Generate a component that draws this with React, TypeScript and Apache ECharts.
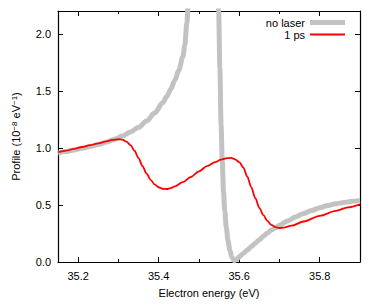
import React, { useEffect, useRef } from "react";
import * as echarts from "echarts";

const noLaserX = [35.15, 35.17, 35.19, 35.21, 35.23, 35.25, 35.27, 35.29, 35.31, 35.33, 35.35, 35.37, 35.39, 35.41, 35.42, 35.43, 35.44, 35.45, 35.46, 35.465, 35.47, 35.475, 35.48, 35.49, 35.546, 35.549, 35.552, 35.555, 35.558, 35.561, 35.564, 35.568, 35.572, 35.577, 35.582, 35.587, 35.593, 35.6, 35.61, 35.62, 35.63, 35.64, 35.65, 35.66, 35.67, 35.68, 35.69, 35.7, 35.72, 35.74, 35.76, 35.78, 35.8, 35.82, 35.84, 35.86, 35.88, 35.9];
const noLaserY = [0.955, 0.968, 0.982, 0.997, 1.013, 1.03, 1.05, 1.075, 1.105, 1.14, 1.18, 1.235, 1.305, 1.395, 1.45, 1.515, 1.59, 1.68, 1.8, 1.9, 2.1, 2.35, 2.6, 3.0, 3.0, 2.2, 1.7, 1.2, 0.88, 0.62, 0.45, 0.3, 0.19, 0.1, 0.04, 0.01, 0.02, 0.045, 0.075, 0.105, 0.135, 0.165, 0.195, 0.225, 0.255, 0.28, 0.3, 0.322, 0.36, 0.395, 0.425, 0.452, 0.475, 0.495, 0.51, 0.522, 0.532, 0.54];

const psX = [35.15, 35.17, 35.19, 35.21, 35.23, 35.25, 35.27, 35.285, 35.3, 35.31, 35.32, 35.33, 35.34, 35.35, 35.36, 35.37, 35.38, 35.39, 35.4, 35.41, 35.42, 35.43, 35.44, 35.46, 35.48, 35.5, 35.52, 35.54, 35.555, 35.57, 35.58, 35.59, 35.6, 35.61, 35.62, 35.63, 35.64, 35.65, 35.66, 35.67, 35.68, 35.69, 35.7, 35.71, 35.73, 35.76, 35.8, 35.84, 35.87, 35.9];
const psY = [0.962, 0.976, 0.992, 1.008, 1.024, 1.04, 1.057, 1.07, 1.076, 1.072, 1.055, 1.025, 0.975, 0.91, 0.84, 0.775, 0.72, 0.68, 0.655, 0.642, 0.64, 0.648, 0.662, 0.7, 0.745, 0.795, 0.84, 0.875, 0.897, 0.91, 0.912, 0.9, 0.875, 0.83, 0.75, 0.655, 0.56, 0.475, 0.41, 0.36, 0.325, 0.305, 0.298, 0.302, 0.318, 0.355, 0.405, 0.448, 0.478, 0.505];

const xMajorTicks = [35.2, 35.4, 35.6, 35.8];
const xMinorTicks = [35.3, 35.5, 35.7];
const yTicks = [0, 0.5, 1.0, 1.5, 2.0];
const seriesNames = ["no laser", "1 ps"];

const FONT = "Liberation Sans, Arial, Helvetica, sans-serif";

export default function App() {
  const ref = useRef<HTMLDivElement>(null);
  useEffect(() => {
    if (!ref.current) return;
    const chart = echarts.init(ref.current, null, { renderer: "svg" });
    const zip = (xs: number[], ys: number[]) => xs.map((x, i) => [x, ys[i]]);
    const baseX = (position: string, ticks: number[], len: number, showLine: boolean, labels: boolean) => ({
      type: "value",
      position,
      min: 35.15,
      max: 35.9,
      axisLine: { show: showLine, onZero: false, lineStyle: { color: "#000", width: 1.2 } },
      axisTick: { show: true, inside: true, length: len, customValues: ticks, lineStyle: { color: "#000", width: 1 } },
      axisLabel: labels
        ? { show: true, customValues: ticks, margin: 8, color: "#000", fontSize: 11, fontFamily: FONT, formatter: (v: number) => v.toFixed(1) }
        : { show: false },
      splitLine: { show: false },
    });
    const baseY = (position: string, labels: boolean) => ({
      type: "value",
      position,
      min: 0,
      max: 2.2,
      axisLine: { show: true, onZero: false, lineStyle: { color: "#000", width: 1.2 } },
      axisTick: { show: true, inside: true, length: 5, customValues: yTicks, lineStyle: { color: "#000" } },
      axisLabel: labels
        ? { show: true, customValues: yTicks, margin: 7, color: "#000", fontSize: 11, fontFamily: FONT, formatter: (v: number) => v.toFixed(1) }
        : { show: false },
      splitLine: { show: false },
    });
    const legendText = { fontSize: 11, fontFamily: FONT, color: "#000", lineHeight: 11 };
    chart.setOption({
      animation: false,
      backgroundColor: "#fff",
      grid: { left: 58, top: 11, right: 14, bottom: 43, containLabel: false },
      legend: [
        {
          data: [seriesNames[0]],
          right: 29,
          top: 17,
          align: "right",
          icon: "rect",
          itemWidth: 35,
          itemHeight: 5,
          padding: 0,
          textStyle: legendText,
        },
        {
          data: [seriesNames[1]],
          right: 29,
          top: 29,
          align: "right",
          icon: "rect",
          itemWidth: 35,
          itemHeight: 2,
          padding: 0,
          textStyle: legendText,
        },
      ],
      xAxis: [
        {
          ...baseX("bottom", xMajorTicks, 5, true, true),
          name: "Electron energy (eV)",
          nameLocation: "middle",
          nameGap: 25,
          nameTextStyle: { fontSize: 11, fontFamily: FONT, color: "#000" },
        },
        baseX("bottom", xMinorTicks, 3, false, false),
        baseX("top", xMajorTicks, 5, true, false),
        baseX("top", xMinorTicks, 3, false, false),
      ],
      yAxis: [
        {
          ...baseY("left", true),
          name: "Profile (10{sup|−8} eV{sup|−1})",
          nameLocation: "middle",
          nameGap: 34,
          nameTextStyle: {
            fontSize: 11,
            fontFamily: FONT,
            color: "#000",
            rich: { sup: { fontSize: 8, fontFamily: FONT, color: "#000", verticalAlign: "top", lineHeight: 8, padding: [0, 0, 6, 0] } },
          },
        },
        baseY("right", false),
      ],
      series: [
        {
          name: seriesNames[0],
          type: "line",
          data: zip(noLaserX, noLaserY),
          showSymbol: false,
          symbol: "none",
          smooth: 0.3,
          smoothMonotone: "x",
          color: "#c2c2c2",
          lineStyle: { color: "#c2c2c2", width: 5 },
          clip: true,
          z: 2,
        },
        {
          name: seriesNames[1],
          type: "line",
          data: zip(psX, psY),
          showSymbol: false,
          symbol: "none",
          smooth: 0.3,
          smoothMonotone: "x",
          color: "#ff0000",
          lineStyle: { color: "#ff0000", width: 1.8 },
          clip: true,
          z: 3,
        },
      ],
    });
    return () => chart.dispose();
  }, []);
  return <div ref={ref} style={{ width: 374, height: 305, position: "absolute", left: 0, top: 0 }} />;
}
